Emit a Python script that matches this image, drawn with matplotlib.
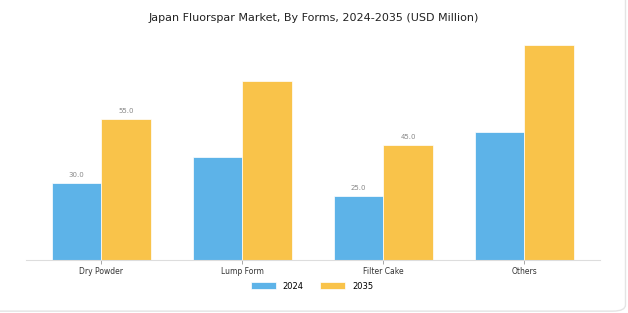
import numpy as np
import matplotlib.pyplot as plt
from matplotlib.patches import FancyBboxPatch

categories = ['Dry Powder', 'Lump Form', 'Filter Cake', 'Others']
values_2024 = [30.0, 40.0, 25.0, 50.0]
values_2035 = [55.0, 70.0, 45.0, 84.0]
labeled = [0, 2]  # only these groups carry value labels

blue = '#5DB3E8'
yellow = '#F9C34A'

fig = plt.figure(figsize=(6.28, 3.13), dpi=100)
fig.patch.set_facecolor('white')
# frame only visible on right / bottom edges in the reference
border = FancyBboxPatch((-0.05, 0.006), 1.046, 1.1, boxstyle='round,pad=0,rounding_size=0.02',
                        transform=fig.transFigure, facecolor='none', edgecolor='#e4e4e4', lw=1)
fig.patches.append(border)

ax = fig.add_axes([0.041, 0.169, 0.914, 0.723])
x = np.arange(len(categories))
w = 0.35
b1 = ax.bar(x - w / 2, values_2024, w, color=blue, edgecolor='white', lw=0.5, label='2024')
b2 = ax.bar(x + w / 2, values_2035, w, color=yellow, edgecolor='white', lw=0.5, label='2035')

for i in labeled:
    ax.text(x[i] - w / 2, values_2024[i] + 2, f'{values_2024[i]:.1f}', ha='center', va='bottom',
            fontsize=5, color='#888888')
    ax.text(x[i] + w / 2, values_2035[i] + 2, f'{values_2035[i]:.1f}', ha='center', va='bottom',
            fontsize=5, color='#888888')

ax.set_ylim(0, max(values_2035) * 1.05)
ax.set_xticks(x)
ax.set_xticklabels(categories, fontsize=5.5, color='#333333')
ax.set_yticks([])
for s in ['top', 'right', 'left']:
    ax.spines[s].set_visible(False)
ax.spines['bottom'].set_color('#dddddd')
ax.spines['bottom'].set_linewidth(0.8)
ax.tick_params(axis='x', length=3, width=0.6, color='#999999', pad=2)

fig.suptitle('Japan Fluorspar Market, By Forms, 2024-2035 (USD Million)', fontsize=8,
             color='#222222', y=0.96)
fig.legend(handles=[b1, b2], loc='center', bbox_to_anchor=(0.497, 0.086), ncol=2, frameon=False,
           fontsize=6, handlelength=3, handleheight=0.8, columnspacing=2)

plt.savefig('out.png', dpi=100)
